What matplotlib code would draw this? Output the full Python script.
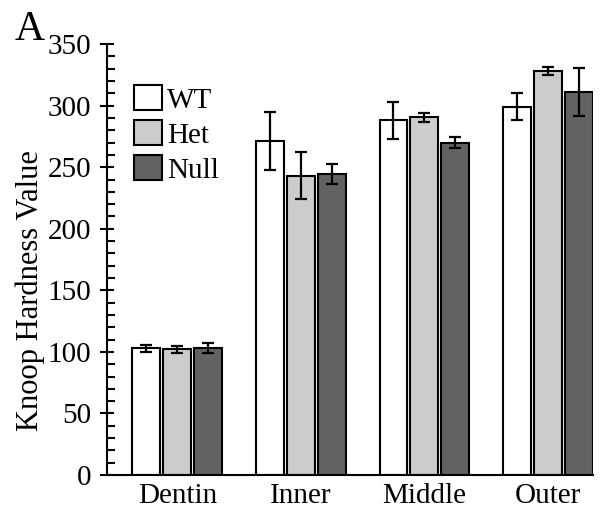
import numpy as np
import matplotlib
matplotlib.use('Agg')
from matplotlib import pyplot as plt
from matplotlib.ticker import MultipleLocator

plt.rcParams['font.family'] = ['Liberation Serif', 'DejaVu Serif']

regions = ['Dentin', 'Inner', 'Middle', 'Outer']
groups = ['WT', 'Het', 'Null']
wt = [103, 271, 288, 299]
het = [102, 243, 290.5, 328.5]
null = [103, 244.5, 270, 311.5]
wt_err = [3, 23.5, 15, 11]
het_err = [3, 19, 3.5, 3.3]
null_err = [4, 8.5, 4.5, 19.5]
colors = ['white', '#cccccc', '#626262']

fig = plt.figure(figsize=(6.11, 5.13), dpi=100)
ax = fig.add_axes([0.175, 0.074, 0.7955, 0.84])

x = np.arange(len(regions))
w = 0.226
step = 0.25
for i, (vals, errs) in enumerate(zip([wt, het, null], [wt_err, het_err, null_err])):
    ax.bar(x + (i - 1) * step, vals, w, yerr=errs, color=colors[i],
           edgecolor='black', linewidth=1.5, label=groups[i],
           error_kw=dict(ecolor='black', elinewidth=1.6, capsize=4, capthick=1.6))

ax.set_xlim(-0.57, 3.365)
ax.set_ylim(0, 350)
ax.set_xticks(x)
ax.set_xticklabels(regions, fontsize=21)
ax.tick_params(axis='x', length=0, pad=6)
ax.yaxis.set_major_locator(MultipleLocator(50))
ax.yaxis.set_minor_locator(MultipleLocator(10))
ax.tick_params(axis='y', which='major', direction='inout', length=10, width=1.5,
               labelsize=21, pad=6.5)
ax.tick_params(axis='y', which='minor', direction='in', length=5.5, width=1.5)
ax.spines['top'].set_visible(False)
ax.spines['right'].set_visible(False)
ax.spines['left'].set_linewidth(1.5)
ax.spines['bottom'].set_linewidth(1.5)
ax.set_ylabel('Knoop Hardness Value', fontsize=22)
ax.yaxis.set_label_coords(-0.128, 0.427)

ax.legend(loc='upper left', bbox_to_anchor=(0.056, 0.905), frameon=False, fontsize=21,
          handlelength=0.95, handleheight=0.95, handletextpad=0.18, labelspacing=0.22,
          borderpad=0, borderaxespad=0)

fig.text(0.024, 0.922, 'A', fontsize=30, va='baseline', ha='left')

fig.savefig('out.png', dpi=100)
